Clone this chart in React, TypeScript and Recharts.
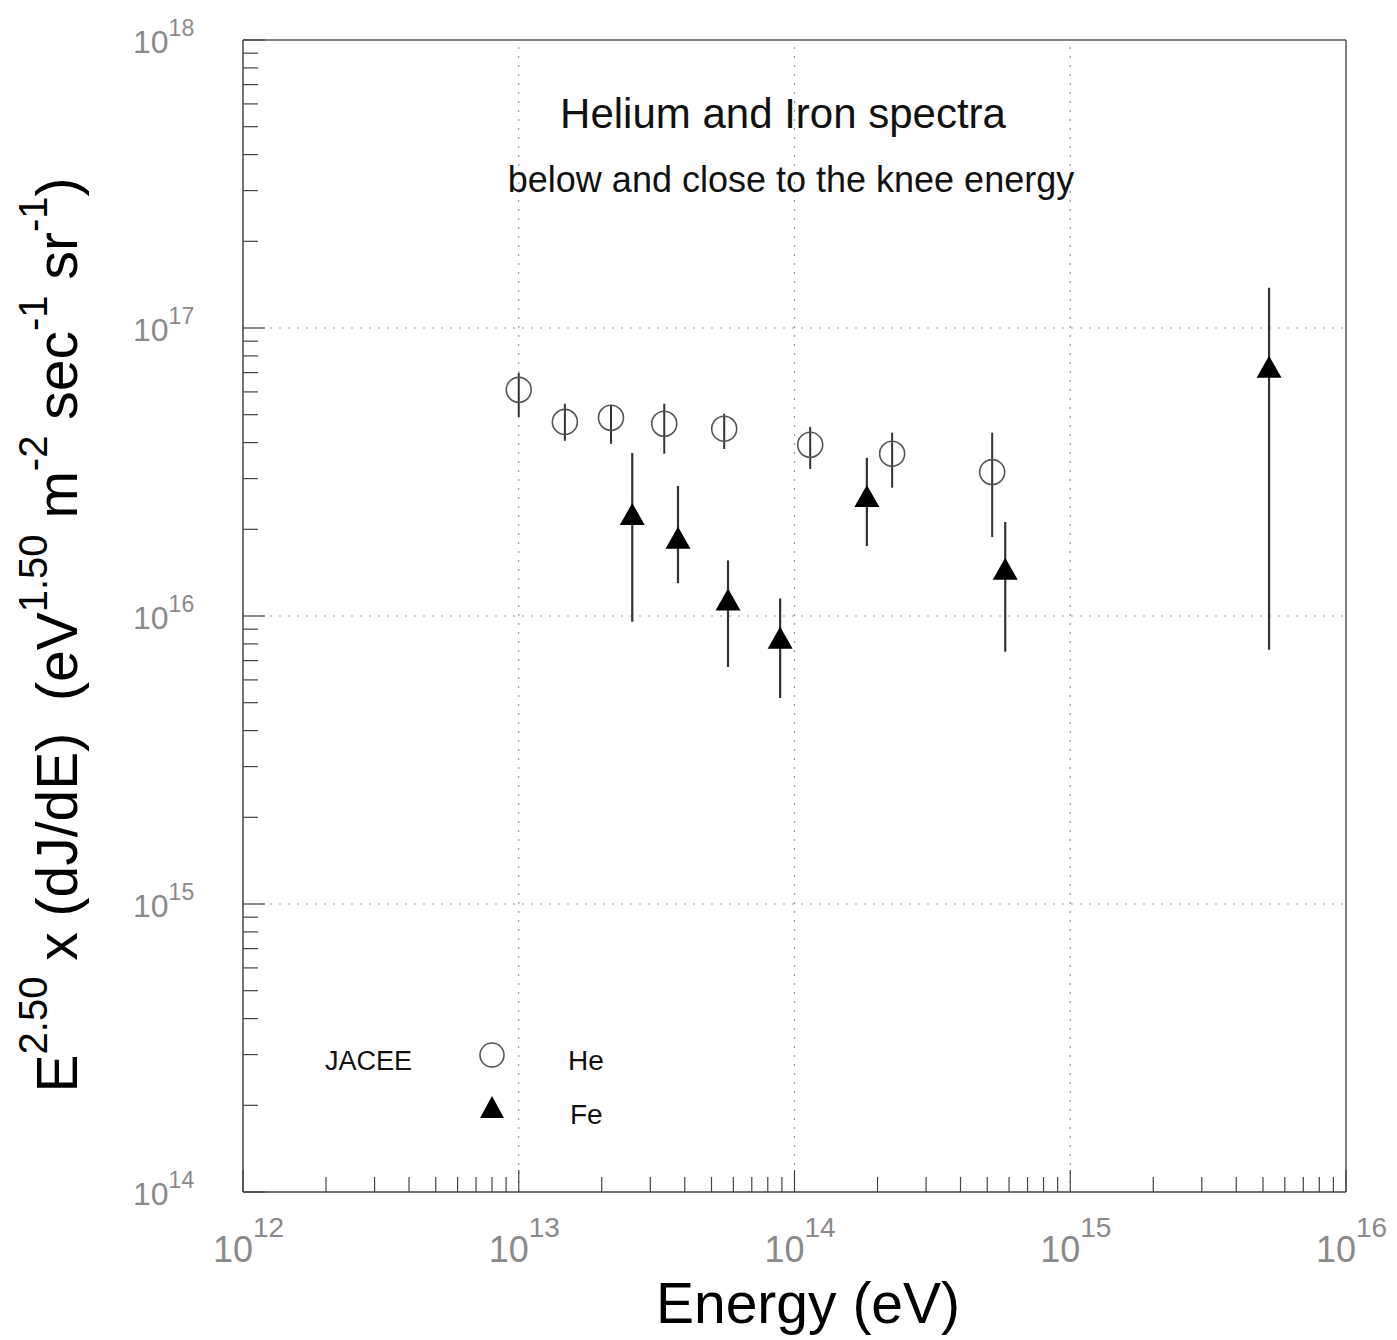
import React from 'react';
import { ScatterChart, Scatter, XAxis, YAxis, ErrorBar, ReferenceLine } from 'recharts';

const FONT = "'Liberation Sans', Arial, Helvetica, sans-serif";

// JACEE helium points (energy in eV, flux scaled by E^2.5)
const heEnergy = [1.0e13, 1.47e13, 2.16e13, 3.37e13, 5.56e13, 1.14e14, 2.26e14, 5.21e14];
const heFlux = [6.1e16, 4.72e16, 4.88e16, 4.65e16, 4.47e16, 3.93e16, 3.66e16, 3.16e16];
const heFluxLow = [4.91e16, 4.06e16, 3.96e16, 3.66e16, 3.8e16, 3.24e16, 2.79e16, 1.88e16];
const heFluxHigh = [6.98e16, 5.46e16, 5.41e16, 5.46e16, 5.04e16, 4.54e16, 4.33e16, 4.33e16];

// JACEE iron points
const feEnergy = [2.58e13, 3.78e13, 5.74e13, 8.87e13, 1.83e14, 5.81e14, 5.26e15];
const feFlux = [2.26e16, 1.87e16, 1.14e16, 8.4e15, 2.61e16, 1.46e16, 7.33e16];
const feFluxLow = [9.55e15, 1.3e16, 6.65e15, 5.19e15, 1.75e16, 7.52e15, 7.64e15];
const feFluxHigh = [3.68e16, 2.83e16, 1.56e16, 1.15e16, 3.54e16, 2.12e16, 1.38e17];

const xDecades = [12, 13, 14, 15, 16];
const yDecades = [14, 15, 16, 17, 18];
const minorSteps = [2, 3, 4, 5, 6, 7, 8, 9];

const logTicks = (decades: number[]) => {
  const out: number[] = [];
  decades.forEach((d, i) => {
    out.push(Math.pow(10, d));
    if (i < decades.length - 1) minorSteps.forEach((m) => out.push(m * Math.pow(10, d)));
  });
  return out;
};

const xTicks = logTicks(xDecades);
const yTicks = logTicks(yDecades);

const heData = heEnergy.map((x, i) => ({
  x,
  y: heFlux[i],
  err: [heFlux[i] - heFluxLow[i], heFluxHigh[i] - heFlux[i]],
}));
const feData = feEnergy.map((x, i) => ({
  x,
  y: feFlux[i],
  err: [feFlux[i] - feFluxLow[i], feFluxHigh[i] - feFlux[i]],
}));

const isDecade = (v: number) => {
  const lg = Math.log10(v);
  return Math.abs(lg - Math.round(lg)) < 1e-6;
};

const XTick = (props: any) => {
  const { x, y, payload } = props;
  const major = isDecade(payload.value);
  const exp = Math.round(Math.log10(payload.value));
  return (
    <g>
      <line x1={x} y1={y} x2={x} y2={y - (major ? 22 : 15)} stroke="#444" strokeWidth={1.2} />
      {major && (
        <text x={x - 30} y={y + 70} fontSize={36} fill="#8a8a8a" fontFamily={FONT}>
          10
          <tspan dy={-25} fontSize={28}>{exp}</tspan>
        </text>
      )}
    </g>
  );
};

const YTick = (props: any) => {
  const { x, y, payload } = props;
  const major = isDecade(payload.value);
  const exp = Math.round(Math.log10(payload.value));
  return (
    <g>
      <line x1={x} y1={y} x2={x + (major ? 22 : 15)} y2={y} stroke="#444" strokeWidth={1.2} />
      {major && (
        <text x={x - 110} y={y + 13} fontSize={32} fill="#8a8a8a" fontFamily={FONT}>
          10
          <tspan dy={-17} fontSize={23}>{exp}</tspan>
        </text>
      )}
    </g>
  );
};

const OpenCircle = (p: any) => (
  <circle cx={p.cx} cy={p.cy} r={12.5} fill="none" stroke="#555" strokeWidth={1.6} />
);

const FilledTriangle = (p: any) => (
  <path
    d={`M${p.cx},${p.cy - 11} L${p.cx + 12.5},${p.cy + 11} L${p.cx - 12.5},${p.cy + 11} Z`}
    fill="#000"
  />
);

const gridX = [1e13, 1e14, 1e15];
const gridY = [1e15, 1e16, 1e17];

export default function App() {
  return (
    <div style={{ position: 'absolute', left: 0, top: 0, width: 1397, height: 1340, background: '#fff' }}>
      <ScatterChart width={1397} height={1340} margin={{ top: 40, right: 51, bottom: 0, left: 0 }}>
        <XAxis
          type="number"
          dataKey="x"
          scale="log"
          domain={[1e12, 1e16]}
          allowDataOverflow
          ticks={xTicks}
          interval={0}
          tickSize={0}
          tickMargin={0}
          tickLine={false}
          tick={<XTick />}
          height={148}
          axisLine={{ stroke: '#444', strokeWidth: 1.5 }}
        />
        <YAxis
          type="number"
          dataKey="y"
          scale="log"
          domain={[1e14, 1e18]}
          allowDataOverflow
          ticks={yTicks}
          interval={0}
          tickSize={0}
          tickMargin={0}
          tickLine={false}
          tick={<YTick />}
          width={243}
          axisLine={{ stroke: '#444', strokeWidth: 1.5 }}
        />
        {gridX.map((v) => (
          <ReferenceLine key={`gx${v}`} x={v} stroke="#999" strokeDasharray="2 7" strokeWidth={1.2} />
        ))}
        {gridY.map((v) => (
          <ReferenceLine key={`gy${v}`} y={v} stroke="#999" strokeDasharray="2 7" strokeWidth={1.2} />
        ))}
        <ReferenceLine x={1e16} stroke="#555" strokeWidth={1.5} />
        <ReferenceLine y={1e18} stroke="#555" strokeWidth={1.5} />
        <Scatter data={heData} dataKey="y" shape={<OpenCircle />} isAnimationActive={false}>
          <ErrorBar dataKey="err" direction="y" width={0} stroke="#333" strokeWidth={2} isAnimationActive={false} />
        </Scatter>
        <Scatter data={feData} dataKey="y" shape={<FilledTriangle />} isAnimationActive={false}>
          <ErrorBar dataKey="err" direction="y" width={0} stroke="#333" strokeWidth={2.2} isAnimationActive={false} />
        </Scatter>
      </ScatterChart>
      <svg
        width={1397}
        height={1340}
        style={{ position: 'absolute', left: 0, top: 0, pointerEvents: 'none' }}
        fontFamily={FONT}
      >
        <text x={783} y={128} textAnchor="middle" fontSize={42} fill="#111">
          Helium and Iron spectra
        </text>
        <text x={791} y={192} textAnchor="middle" fontSize={36} fill="#111">
          below and close to the knee energy
        </text>

        <text x={325} y={1070} fontSize={27} fill="#111">JACEE</text>
        <circle cx={492} cy={1055} r={12} fill="none" stroke="#555" strokeWidth={1.6} />
        <text x={568} y={1070} fontSize={28} fill="#111">He</text>
        <path d="M492,1096 L504,1118 L480,1118 Z" fill="#000" />
        <text x={570} y={1124} fontSize={28} fill="#111">Fe</text>

        <text x={808} y={1323} textAnchor="middle" fontSize={57} fill="#000">
          Energy (eV)
        </text>
        <text
          transform="translate(77,635) rotate(-90)"
          textAnchor="middle"
          fontSize={57}
          fill="#000"
          style={{ whiteSpace: 'pre' }}
        >
          E<tspan dy={-30} fontSize={40}>2.50</tspan>
          <tspan dy={30}> x (dJ/dE)  (eV</tspan>
          <tspan dy={-30} fontSize={40}>1.50</tspan>
          <tspan dy={30}> m</tspan>
          <tspan dy={-30} fontSize={40}>-2</tspan>
          <tspan dy={30}> sec</tspan>
          <tspan dy={-30} fontSize={40}>-1</tspan>
          <tspan dy={30}> sr</tspan>
          <tspan dy={-30} fontSize={40}>-1</tspan>
          <tspan dy={30}>)</tspan>
        </text>
      </svg>
    </div>
  );
}
